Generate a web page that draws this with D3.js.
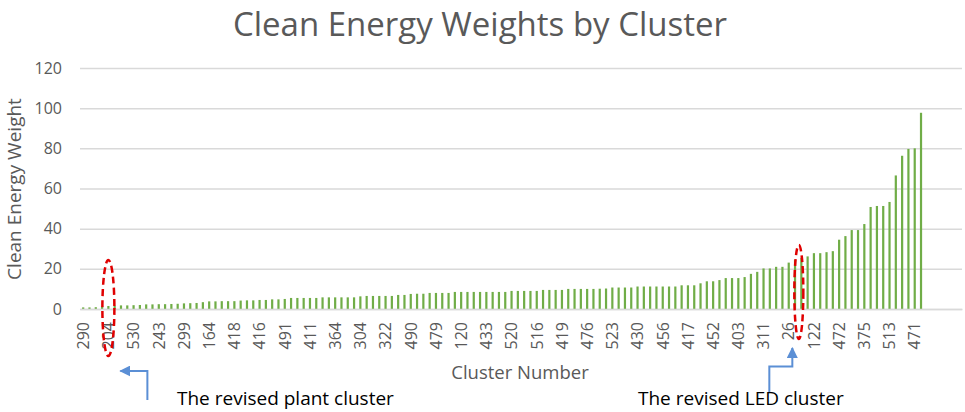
<!DOCTYPE html>
<html>
<head>
<meta charset="utf-8">
<script src="https://cdn.jsdelivr.net/npm/d3@7"></script>
<style>
  body { margin: 0; background: #fff; }
  text { font-family: "Open Sans", sans-serif; }
</style>
</head>
<body>
<div id="chart"></div>
<script>
var svgWidth = 965;
var svgHeight = 412;

// Bar values, sorted ascending (one bar per cluster)
var weights = [
  0.8, 0.8, 0.9, 1.3, 1.5, 1.6, 1.8, 1.8, 1.9, 2.0,
  2.3, 2.3, 2.4, 2.4, 2.5, 2.6, 2.8, 2.9, 3.0, 3.4,
  3.8, 3.8, 3.9, 3.9, 3.9, 4.2, 4.3, 4.3, 4.5, 4.5,
  4.8, 4.8, 5.0, 5.5, 5.5, 5.5, 5.5, 5.5, 5.8, 5.8,
  5.8, 5.8, 5.8, 5.8, 6.3, 6.5, 6.5, 6.5, 6.5, 6.5,
  7.0, 7.0, 7.5, 7.6, 7.6, 8.0, 8.0, 8.0, 8.0, 8.5,
  8.5, 8.5, 8.5, 8.5, 8.5, 8.5, 8.5, 8.5, 9.0, 9.0,
  9.0, 9.0, 9.0, 9.5, 9.5, 9.5, 9.5, 10.0, 10.0, 10.0,
  10.0, 10.0, 10.1, 10.2, 10.7, 10.7, 10.7, 10.7, 11.2, 11.2,
  11.2, 11.2, 11.2, 11.2, 11.2, 11.8, 11.8, 11.8, 12.8, 13.8,
  13.8, 14.4, 15.4, 15.4, 15.4, 15.9, 17.5, 18.5, 20.2, 20.2,
  21.0, 21.0, 23.1, 24.5, 25.5, 26.2, 27.8, 27.8, 28.3, 28.8,
  34.5, 36.3, 39.3, 39.3, 42.3, 50.8, 51.3, 51.3, 53.3, 66.5,
  76.3, 79.7, 80.0, 97.7
];

// Cluster numbers shown under every 4th bar
var tickLabels = [
  "290", "204", "530", "243", "299", "164", "418", "416", "491", "411",
  "364", "304", "322", "490", "479", "120", "433", "520", "516", "419",
  "476", "523", "430", "456", "417", "452", "403", "311", "26", "122",
  "472", "375", "513", "471"
];
var labelEvery = 4;

var yTicks = [0, 20, 40, 60, 80, 100, 120];

// category axis has a few empty slots after the last bar
var slotCount = 140;

var plantIndex = 4;    // "204"
var ledIndex = 114;

var margin = { top: 68, right: 3, bottom: 103, left: 80 };
var height = svgHeight - margin.top - margin.bottom;
var width = svgWidth - margin.left - margin.right;

var svg = d3.select("#chart")
  .append("svg")
  .attr("width", svgWidth)
  .attr("height", svgHeight);

// Title
svg.append("text")
  .attr("x", 480)
  .attr("y", 36)
  .attr("text-anchor", "middle")
  .attr("font-size", "33px")
  .attr("fill", "#595959")
  .text("Clean Energy Weights by Cluster");

var chartGroup = svg.append("g")
  .attr("transform", `translate(${margin.left}, ${margin.top})`);

var xScale = d3.scaleBand()
  .domain(d3.range(slotCount))
  .range([0, width])
  .paddingInner(0.65)
  .paddingOuter(0.33);

var yScale = d3.scaleLinear()
  .domain([0, 120])
  .range([height, 0]);

// Gridlines + y labels
var leftAxis = d3.axisLeft(yScale)
  .tickValues(yTicks)
  .tickSize(-width)
  .tickPadding(18);

var yAxisG = chartGroup.append("g").call(leftAxis);
yAxisG.select(".domain").remove();
yAxisG.selectAll(".tick line")
  .attr("stroke", "#D9D9D9")
  .attr("stroke-width", 1.5);
yAxisG.selectAll(".tick text")
  .attr("font-size", "16px")
  .attr("font-family", "Open Sans, sans-serif")
  .attr("fill", "#595959");

// Bars
chartGroup.selectAll(".bar")
  .data(weights)
  .enter()
  .append("rect")
  .attr("class", "bar")
  .attr("x", (d, i) => xScale(i))
  .attr("y", d => yScale(d))
  .attr("width", xScale.bandwidth())
  .attr("height", d => height - yScale(d))
  .attr("fill", "#70AD47");

// Category axis
var tickIdx = tickLabels.map((t, i) => i * labelEvery);
var bottomAxis = d3.axisBottom(xScale)
  .tickValues(tickIdx)
  .tickSize(0)
  .tickFormat(d => tickLabels[d / labelEvery]);

var xAxisG = chartGroup.append("g")
  .attr("transform", `translate(0, ${height})`)
  .call(bottomAxis);
xAxisG.select(".domain")
  .attr("stroke", "#D9D9D9")
  .attr("stroke-width", 1.5);
xAxisG.selectAll(".tick text")
  .attr("font-size", "16px")
  .attr("font-family", "Open Sans, sans-serif")
  .attr("fill", "#595959")
  .attr("transform", "rotate(-90)")
  .attr("text-anchor", "end")
  .attr("x", -13)
  .attr("y", 0)
  .attr("dy", "0.36em");

// Axis titles
svg.append("text")
  .attr("transform", "translate(21, 189) rotate(-90)")
  .attr("text-anchor", "middle")
  .attr("font-size", "19px")
  .attr("fill", "#595959")
  .text("Clean Energy Weight");

svg.append("text")
  .attr("x", 520)
  .attr("y", 379)
  .attr("text-anchor", "middle")
  .attr("font-size", "18.5px")
  .attr("fill", "#595959")
  .text("Cluster Number");

// Annotations
var cx = i => margin.left + xScale(i) + xScale.bandwidth() / 2;
var base = margin.top + height;

function ring(x, y, rx, ry) {
  svg.append("ellipse")
    .attr("cx", x).attr("cy", y)
    .attr("rx", rx).attr("ry", ry)
    .attr("fill", "none")
    .attr("stroke", "#E00000")
    .attr("stroke-width", 2.5)
    .attr("stroke-dasharray", "7,4");
}
ring(cx(plantIndex), base - 1, 6, 48);
ring(cx(ledIndex) - 2.5, base - 17, 4.5, 47);

svg.append("defs").append("marker")
  .attr("id", "head")
  .attr("viewBox", "0 0 10 10")
  .attr("refX", 9).attr("refY", 5)
  .attr("markerWidth", 5.5).attr("markerHeight", 5.5)
  .attr("markerUnits", "strokeWidth")
  .attr("orient", "auto")
  .append("path")
  .attr("d", "M0,0 L10,5 L0,10 Z")
  .attr("fill", "#5B8FD5");

var px = cx(plantIndex);
svg.append("path")
  .attr("d", `M${px + 39},400 L${px + 39},371 L${px + 12},371`)
  .attr("fill", "none")
  .attr("stroke", "#5B8FD5")
  .attr("stroke-width", 2)
  .attr("marker-end", "url(#head)");

var lx = cx(ledIndex) - 9;
svg.append("path")
  .attr("d", `M${lx - 23},392 L${lx - 23},366.5 L${lx},366.5 L${lx},348`)
  .attr("fill", "none")
  .attr("stroke", "#5B8FD5")
  .attr("stroke-width", 2)
  .attr("marker-end", "url(#head)");

svg.append("text")
  .attr("x", 177)
  .attr("y", 405)
  .attr("font-size", "19px")
  .attr("fill", "#000")
  .text("The revised plant cluster");

svg.append("text")
  .attr("x", 638)
  .attr("y", 405)
  .attr("font-size", "19px")
  .attr("fill", "#000")
  .text("The revised LED cluster");
</script>
</body>
</html>
